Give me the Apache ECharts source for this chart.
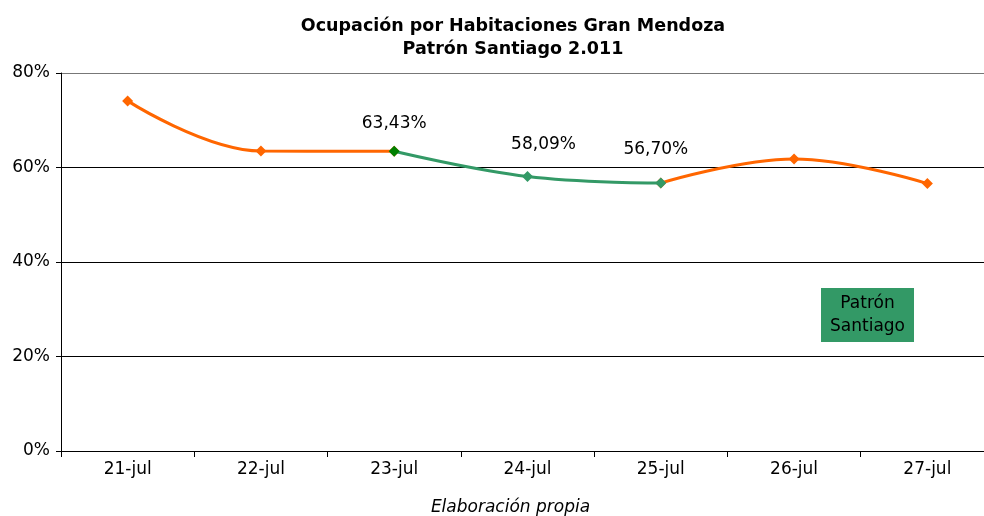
<!DOCTYPE html>
<html>
<head>
    <meta charset="utf-8">
    <title>Ocupación Gran Mendoza</title>
    <script src="https://cdn.jsdelivr.net/npm/echarts@6/dist/echarts.min.js"></script>
</head>
<body style="margin:0">
    <div id="main" style="width: 984px;height:516px;"></div>
    <script type="text/javascript">
        // datos
        var dias = ['21-jul', '22-jul', '23-jul', '24-jul', '25-jul', '26-jul', '27-jul'];
        var ocupacion = [74.1, 63.5, 63.43, 58.09, 56.70, 61.8, 56.6];
        // tramo del Patrón Santiago (23 al 25 de julio), con etiqueta
        var tramoSantiago = [2, 3, 4];
        var yTicks = [0, 20, 40, 60, 80];

        var fuente = 'DejaVu Sans, Verdana, sans-serif';
        // pequeño corrimiento de cada etiqueta del tramo
        var corrimiento = [[0, 0], [16, -4], [-5, -6]];

        var naranja = dias.map(function(d, i) {
            return (i > tramoSantiago[0] && i < tramoSantiago[tramoSantiago.length - 1]) ? null : ocupacion[i];
        });
        var verde = dias.map(function(d, i) {
            var k = tramoSantiago.indexOf(i);
            if (k < 0) return null;
            var p = {
                value: ocupacion[i],
                label: { offset: corrimiento[k] }
            };
            if (k === 0) p.itemStyle = { color: '#008000' };
            return p;
        });

        var myChart = echarts.init(document.getElementById('main'));
        var option = {
            animation: false,
            title: {
                text: 'Ocupación por Habitaciones Gran Mendoza\nPatrón Santiago 2.011',
                left: 508,
                textAlign: 'center',
                top: 10,
                textStyle: {
                    fontFamily: fuente,
                    fontWeight: 'bold',
                    fontSize: 17.5,
                    lineHeight: 23,
                    color: '#000'
                }
            },
            grid: {
                left: 61,
                width: 933,
                top: 73,
                bottom: 65,
                containLabel: false,
                outerBoundsMode: 'none'
            },
            xAxis: {
                type: 'category',
                data: dias,
                boundaryGap: true,
                name: 'Elaboración propia',
                nameLocation: 'middle',
                nameGap: 48,
                nameTextStyle: {
                    fontFamily: fuente,
                    fontStyle: 'italic',
                    fontSize: 17,
                    color: '#000',
                    padding: [0, 34, 0, 0]
                },
                axisLine: { lineStyle: { color: '#000', width: 1 } },
                axisTick: { show: true, length: 6, lineStyle: { color: '#000' } },
                axisLabel: {
                    fontFamily: fuente,
                    fontSize: 17,
                    color: '#000',
                    margin: 10
                }
            },
            yAxis: {
                type: 'value',
                min: yTicks[0],
                max: yTicks[yTicks.length - 1],
                interval: 20,
                axisLine: { show: true, lineStyle: { color: '#000', width: 1 } },
                axisTick: { show: true, length: 5, lineStyle: { color: '#000' } },
                splitLine: {
                    lineStyle: { color: ['#000', '#000', '#000', '#000', '#777'], width: 1 }
                },
                axisLabel: {
                    fontFamily: fuente,
                    fontSize: 17,
                    color: '#000',
                    margin: 11,
                    formatter: '{value}%'
                }
            },
            series: [{
                name: 'Ocupación',
                type: 'line',
                data: naranja,
                smooth: 0.4,
                connectNulls: false,
                symbol: 'diamond',
                symbolSize: 11,
                itemStyle: { color: '#FF6600' },
                lineStyle: { color: '#FF6600', width: 3 },
                z: 2
            }, {
                name: 'Patrón Santiago',
                type: 'line',
                data: verde,
                smooth: 0.4,
                symbol: 'diamond',
                symbolSize: 11,
                itemStyle: { color: '#339966' },
                lineStyle: { color: '#339966', width: 3 },
                label: {
                    show: true,
                    position: 'top',
                    distance: 14,
                    fontFamily: fuente,
                    fontSize: 17,
                    color: '#000',
                    formatter: function(p) {
                        return p.value.toFixed(2).replace('.', ',') + '%';
                    }
                },
                z: 3
            }],
            graphic: [{
                type: 'group',
                left: 821,
                top: 288,
                children: [{
                    type: 'rect',
                    shape: { x: 0, y: 0, width: 93, height: 54 },
                    style: { fill: '#339966' }
                }, {
                    type: 'text',
                    x: 46.5,
                    y: 27,
                    style: {
                        text: 'Patrón\nSantiago',
                        align: 'center',
                        verticalAlign: 'middle',
                        fontFamily: fuente,
                        fontSize: 17,
                        lineHeight: 23,
                        fill: '#000'
                    }
                }]
            }]
        };
        myChart.setOption(option);
    </script>
</body>
</html>
